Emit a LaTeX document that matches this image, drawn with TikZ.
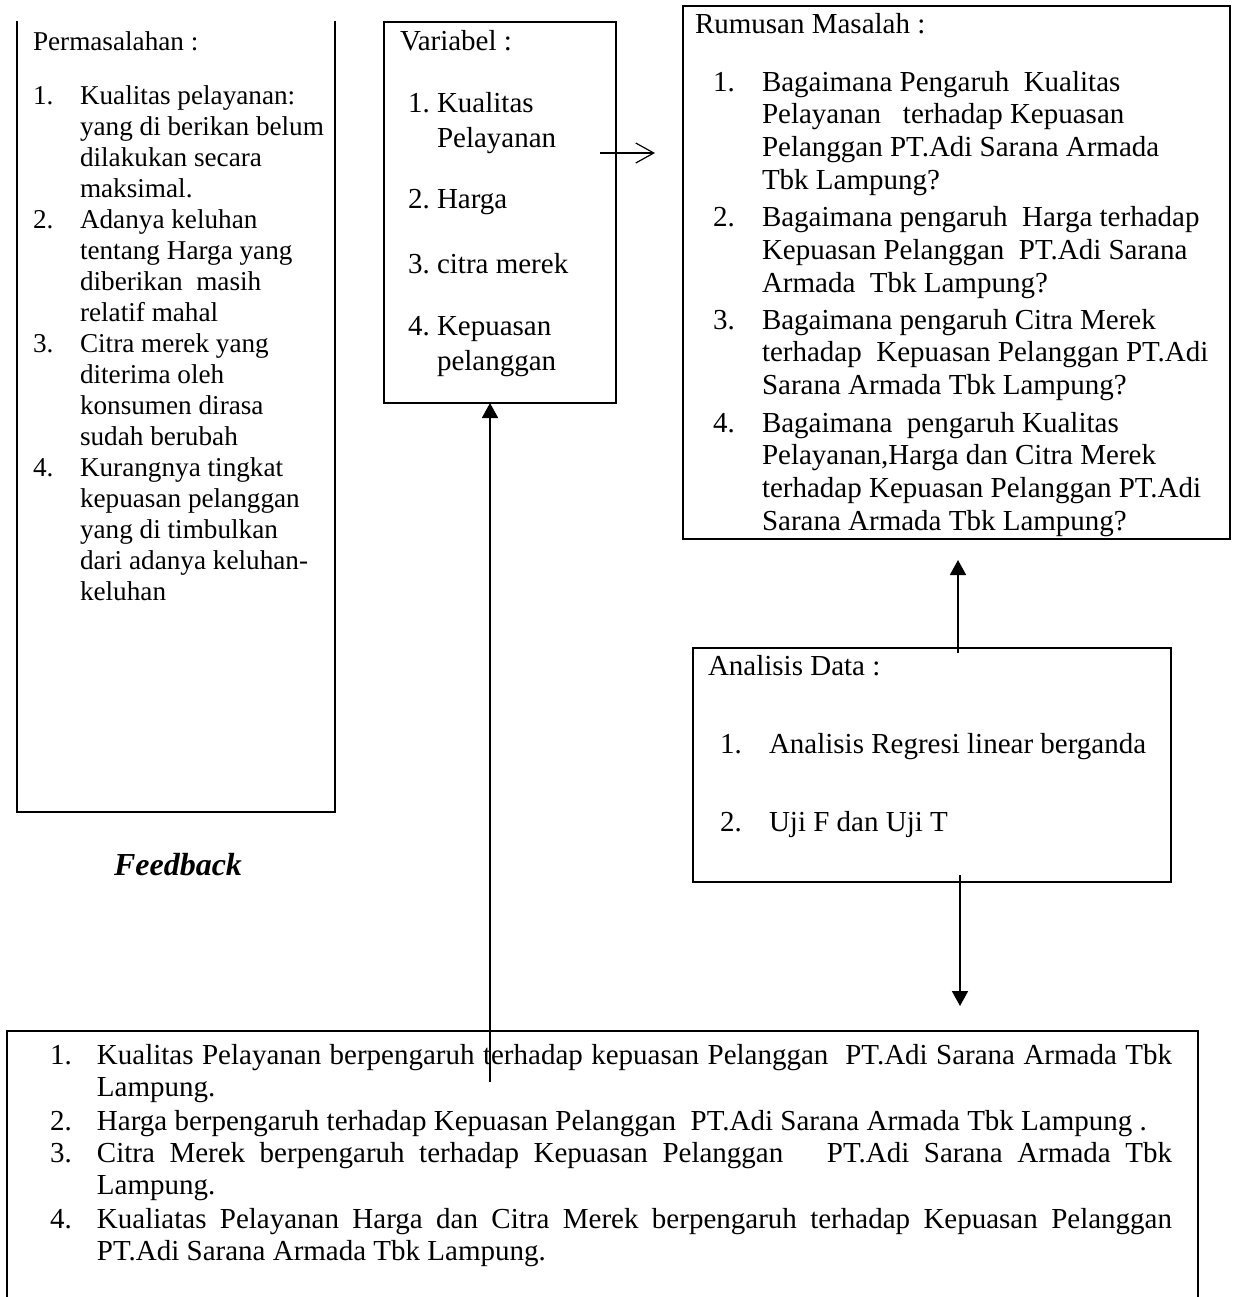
\documentclass[tikz,border=0pt]{standalone}
\usepackage{fontspec}
\setmainfont{Liberation Serif}
\usetikzlibrary{arrows.meta,calc}
\newcommand\fmain{\fontsize{14.5}{16.4}\selectfont}
\newcommand\fvar{\fontsize{14.5}{17.5}\selectfont}
\newcommand\fleftbox{\fontsize{13.6}{15.5}\selectfont}
\newcommand\fbottom{\fontsize{14.5}{16.35}\selectfont}
\newcommand\blk[2]{\parbox[t]{#1}{\raggedright #2}}
\begin{document}
\begin{tikzpicture}[x=0.5pt,y=-0.5pt,
  every node/.style={inner sep=0pt,outer sep=0pt},
  txt/.style={anchor=base west,align=left},
  frame/.style={draw,line width=0.9pt,anchor=north west},
  edge/.style={line width=0.9pt},
  arr/.style={line width=0.9pt,-{Triangle[length=7.5pt,width=8pt]}},
  openarr/.style={line width=0.6pt,-{Straight Barb[length=9pt,width=10pt]}}]
\useasboundingbox (0,0) rectangle (1238,1297);

% ---------- Permasalahan (open top) ----------
\coordinate (pTL) at (17,21);
\coordinate (pBL) at (17,812);
\coordinate (pBR) at (335,812);
\coordinate (pTR) at (335,21);
\draw[edge] (pTL) -- (pBL) -- (pBR) -- (pTR);
\node[txt,font=\fleftbox] (ptitle) at (33,50) {Permasalahan :};
\node[txt,font=\fleftbox] (pn1) at (33,104) {1.};
\node[txt,font=\fleftbox] (pt1) at (80,104) {\blk{150pt}{Kualitas pelayanan:\\yang di berikan belum\\dilakukan secara\\maksimal.}};
\node[txt,font=\fleftbox] (pn2) at (33,228) {2.};
\node[txt,font=\fleftbox] (pt2) at (80,228) {\blk{150pt}{Adanya keluhan\\tentang Harga yang\\diberikan\ \ masih\\relatif mahal}};
\node[txt,font=\fleftbox] (pn3) at (33,352) {3.};
\node[txt,font=\fleftbox] (pt3) at (80,352) {\blk{150pt}{Citra merek yang\\diterima oleh\\konsumen dirasa\\sudah berubah}};
\node[txt,font=\fleftbox] (pn4) at (33,476) {4.};
\node[txt,font=\fleftbox] (pt4) at (80,476) {\blk{150pt}{Kurangnya tingkat\\kepuasan pelanggan\\yang di timbulkan\\dari adanya keluhan-\\keluhan}};

% ---------- Feedback ----------
\node[font=\fontsize{16}{19}\selectfont\bfseries\itshape] (fb) at (178,865) {Feedback};

% ---------- Variabel ----------
\node[frame,minimum width=116pt,minimum height=190.5pt] (var) at (384,22) {};
\node[txt,font=\fvar] (vtitle) at (400,50) {Variabel :};
\node[txt,font=\fvar] (vn1) at (408,112) {1.};
\node[txt,font=\fvar] (vt1) at (437,112) {\blk{100pt}{Kualitas\\Pelayanan}};
\node[txt,font=\fvar] (vn2) at (408,208) {2.};
\node[txt,font=\fvar] (vt2) at (437,208) {Harga};
\node[txt,font=\fvar] (vn3) at (408,273) {3.};
\node[txt,font=\fvar] (vt3) at (437,273) {citra merek};
\node[txt,font=\fvar] (vn4) at (408,335) {4.};
\node[txt,font=\fvar] (vt4) at (437,335) {\blk{100pt}{Kepuasan\\pelanggan}};

% ---------- Rumusan Masalah ----------
\node[frame,minimum width=273.5pt,minimum height=266.5pt] (rum) at (683,6) {};
\node[txt,font=\fmain] (rtitle) at (695,33) {Rumusan Masalah :};
\node[txt,font=\fmain] (rn1) at (713,91) {1.};
\node[txt,font=\fmain] (rt1) at (762,91) {\blk{240pt}{Bagaimana Pengaruh\ \ Kualitas\\Pelayanan\ \ \ terhadap Kepuasan\\Pelanggan PT.Adi Sarana Armada\\Tbk Lampung?}};
\node[txt,font=\fmain] (rn2) at (713,226.5) {2.};
\node[txt,font=\fmain] (rt2) at (762,226.5) {\blk{240pt}{Bagaimana pengaruh\ \ Harga terhadap\\Kepuasan Pelanggan\ \ PT.Adi Sarana\\Armada\ \ Tbk Lampung?}};
\node[txt,font=\fmain] (rn3) at (713,329) {3.};
\node[txt,font=\fmain] (rt3) at (762,329) {\blk{240pt}{Bagaimana pengaruh Citra Merek\\terhadap\ \ Kepuasan Pelanggan PT.Adi\\Sarana Armada Tbk Lampung?}};
\node[txt,font=\fmain] (rn4) at (713,432) {4.};
\node[txt,font=\fmain] (rt4) at (762,432) {\blk{240pt}{Bagaimana\ \ pengaruh Kualitas\\Pelayanan,Harga dan Citra Merek\\terhadap Kepuasan Pelanggan PT.Adi\\Sarana Armada Tbk Lampung?}};

% ---------- Analisis Data ----------
\node[frame,minimum width=239pt,minimum height=117pt] (ana) at (693,648) {};
\node[txt,font=\fmain] (atitle) at (708,675) {Analisis Data :};
\node[txt,font=\fmain] (an1) at (720,753) {1.};
\node[txt,font=\fmain] (at1) at (769,753) {Analisis Regresi linear berganda};
\node[txt,font=\fmain] (an2) at (720,831) {2.};
\node[txt,font=\fmain] (at2) at (769,831) {Uji F dan Uji T};

% ---------- Hasil (open bottom) ----------
\coordinate (hBL) at (7,1297);
\coordinate (hTL) at (7,1031);
\coordinate (hTR) at (1198,1031);
\coordinate (hBR) at (1198,1297);
\draw[edge] (hBL) -- (hTL) -- (hTR) -- (hBR);
\node[txt,font=\fbottom] (hn1) at (50,1064) {1.};
\node[txt,font=\fbottom] (ht1) at (97,1064) {\parbox[t]{537.5pt}{Kualitas Pelayanan berpengaruh terhadap kepuasan Pelanggan\ \ PT.Adi Sarana Armada Tbk\linebreak Lampung.}};
\node[txt,font=\fbottom] (hn2) at (50,1130) {2.};
\node[txt,font=\fbottom] (ht2) at (97,1130) {\parbox[t]{537.5pt}{Harga berpengaruh terhadap Kepuasan Pelanggan\ \ PT.Adi Sarana Armada Tbk Lampung .}};
\node[txt,font=\fbottom] (hn3) at (50,1162) {3.};
\node[txt,font=\fbottom] (ht3) at (97,1162) {\parbox[t]{537.5pt}{Citra Merek berpengaruh terhadap Kepuasan Pelanggan\ \ \ PT.Adi Sarana Armada Tbk\linebreak Lampung.}};
\node[txt,font=\fbottom] (hn4) at (50,1228) {4.};
\node[txt,font=\fbottom] (ht4) at (97,1228) {\parbox[t]{537.5pt}{Kualiatas Pelayanan Harga dan Citra Merek berpengaruh terhadap Kepuasan Pelanggan\linebreak PT.Adi Sarana Armada Tbk Lampung.}};

% ---------- Connectors ----------
\coordinate (v1) at (600,153);
\draw[openarr] (v1) -- ($(v1 -| rum.west)+(-28,0)$);
\coordinate (a2s) at (958,653);
\draw[arr] (a2s) -- ($(a2s |- rum.south)+(0,21)$);
\coordinate (a3s) at (960,875);
\draw[arr] (a3s) -- ($(a3s |- hTL)+(0,-25)$);
\coordinate (fbk) at (490,1082);
\draw[arr] (fbk) -- (fbk |- var.south);
\end{tikzpicture}
\end{document}
